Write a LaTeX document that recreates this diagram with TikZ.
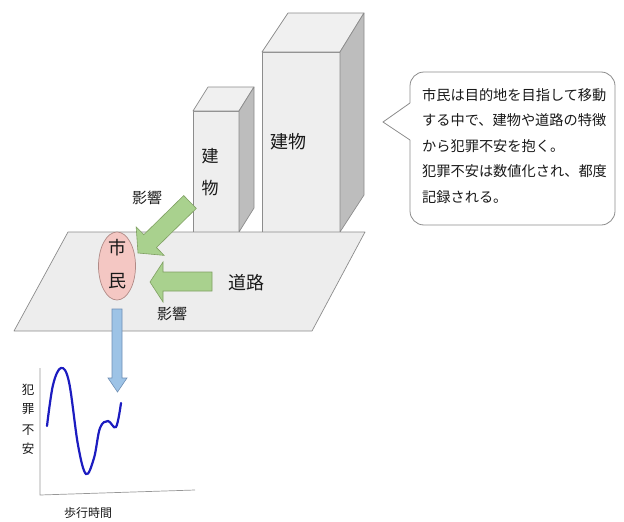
\documentclass[tikz,border=0pt]{standalone}
\usepackage{fontspec}
\setmainfont{Noto Sans CJK JP}
\usetikzlibrary{calc,shapes.geometric}
\definecolor{planefill}{HTML}{EDEDED}
\definecolor{linegray}{HTML}{8C8C8C}
\definecolor{frontfill}{HTML}{EEEEEE}
\definecolor{topfill}{HTML}{F0F0F0}
\definecolor{sidefill}{HTML}{BDBDBD}
\definecolor{pinkfill}{HTML}{F4C7C3}
\definecolor{pinkline}{HTML}{B08A86}
\definecolor{greenfill}{HTML}{A9D18E}
\definecolor{greenline}{HTML}{7FA062}
\definecolor{bluefill}{HTML}{9DC3E6}
\definecolor{blueline}{HTML}{6F8FB5}
\definecolor{curveblue}{HTML}{1C1CC0}
\tikzset{
  face/.style={draw=linegray, line width=0.7pt, line join=round},
  greenarrow/.style={fill=greenfill, draw=greenline, line width=0.6pt, line join=miter},
  bluearrow/.style={fill=bluefill, draw=blueline, line width=0.6pt},
  jlabel/.style={inner sep=0pt, text=black!90},
  axis/.style={draw=linegray!90, line width=0.7pt},
}
\begin{document}
\begin{tikzpicture}[x=1pt,y=-1pt]
\useasboundingbox (0,0) rectangle (624,522);
% small building
\path[face, fill=frontfill] (193,111) rectangle (239,232);
\path[face, fill=topfill] (193,111) -- (208,87) -- (254,87) -- (239,111) -- cycle;
\path[face, fill=sidefill] (239,111) -- (254,87) -- (254,208) -- (239,232) -- cycle;
\node[jlabel, font=\fontsize{17}{17}\selectfont] (b1a) at (210,156) {建};
\node[jlabel, font=\fontsize{17}{17}\selectfont] (b1b) at (210,188) {物};
% tall building
\path[face, fill=frontfill] (262,52) rectangle (340,232);
\path[face, fill=topfill] (262,52) -- (288,13) -- (364,13) -- (340,52) -- cycle;
\path[face, fill=sidefill] (340,52) -- (364,13) -- (364,195) -- (340,232) -- cycle;
\node[jlabel, font=\fontsize{18}{18}\selectfont] (b2) at (288,142) {建物};
% plane
\path[face, fill=planefill] (68,232) -- (365,232) -- (312,331) -- (14,331) -- cycle;
\node[jlabel, font=\fontsize{18}{18}\selectfont] (road) at (246,283) {道路};
% citizen
\node[ellipse, draw=pinkline, fill=pinkfill, line width=0.7pt, minimum width=37pt, minimum height=68pt, inner sep=0pt] (cit) at (117,266) {};
\node[jlabel, font=\fontsize{18}{18}\selectfont] (c1) at (117,248) {市};
\node[jlabel, font=\fontsize{18}{18}\selectfont] (c2) at (117,281) {民};
% diagonal green arrow
\coordinate (dT) at (190,202);
\coordinate (dP) at (138,253);
\coordinate (dH) at ($(dP)!17pt!(dT)$);
\path[greenarrow] ($(dT)!9pt!90:(dP)$) -- ($(dH)!9pt!-90:(dT)$) -- ($(dH)!20pt!-90:(dT)$) -- (dP)
  -- ($(dH)!20pt!90:(dT)$) -- ($(dH)!9pt!90:(dT)$) -- ($(dT)!9pt!-90:(dP)$) -- cycle;
% horizontal green arrow
\path[greenarrow] (212,272) -- (163,272) -- (163,262) -- (150,282) -- (163,302) -- (163,291) -- (212,291) -- cycle;
\node[jlabel, font=\fontsize{15}{15}\selectfont] (inf1) at (147,198) {影響};
\node[jlabel, font=\fontsize{15}{15}\selectfont] (inf2) at (172,314) {影響};
% blue arrow
\path[bluearrow] (112,309) -- (122,309) -- (122,378) -- (127,378) -- (117.5,392) -- (108,378) -- (112,378) -- cycle;
% callout
\node[draw=linegray, line width=0.8pt, fill=white, rounded corners=14pt, minimum width=205pt, minimum height=153pt, inner sep=0pt] (call) at (512.5,148.5) {};
\fill[white] (410.8,103) -- (383,122) -- (410.8,140) -- cycle;
\draw[linegray, line width=0.8pt, line join=miter] (410,103) -- (383,122) -- (410,140);
\node[jlabel, anchor=north west, align=left, font=\fontsize{14.2}{25.5}\selectfont] (calltext) at (422,88)
 {市民は目的地を目指して移動\\する中で、建物や道路の特徴\\から犯罪不安を抱く。\\犯罪不安は数値化され、都度\\記録される。};
% graph
\coordinate (o) at (40,495);
\coordinate (yt) at (40,368);
\coordinate (xr) at (195,490);
\draw[axis] (yt) -- (o) -- (xr);
\draw[curveblue, line width=2.2pt, line cap=round] plot[smooth, tension=0.6] coordinates
 {(47,426) (53,385) (61,368) (69,382) (78,445) (86,474) (94,458) (100,428) (108,421) (116,427) (121,403)};
\node[jlabel, font=\fontsize{12.5}{12.5}\selectfont] (ya) at (28,390) {犯};
\node[jlabel, font=\fontsize{12.5}{12.5}\selectfont] (yb) at (28,409) {罪};
\node[jlabel, font=\fontsize{12.5}{12.5}\selectfont] (yc) at (28,430) {不};
\node[jlabel, font=\fontsize{12.5}{12.5}\selectfont] (yd) at (28,449) {安};
\node[jlabel, font=\fontsize{12}{12}\selectfont] (xl) at (88,513) {歩行時間};
\end{tikzpicture}
\end{document}
